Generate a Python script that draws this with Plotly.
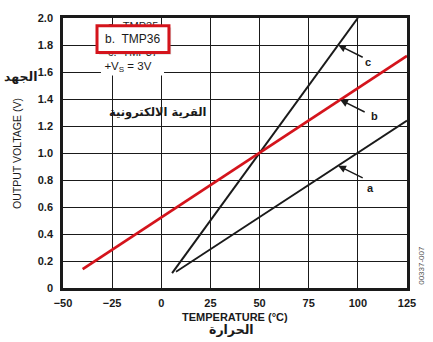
import numpy as np
import plotly.graph_objects as go

# Output voltage vs temperature for the three sensor variants (+VS = 3V)
temp_a = [7.5, 125]          # TMP35
volt_a = [0.12, 1.24]
temp_b = [-40, 125]          # TMP36
volt_b = [0.14, 1.72]
temp_c = [5.5, 100]          # TMP37
volt_c = [0.11, 2.0]

x_ticks = [-50, -25, 0, 25, 50, 75, 100, 125]
x_tick_text = ["\u221250", "\u221225", "0", "25", "50", "75", "100", "125"]
y_ticks = [0, 0.2, 0.4, 0.6, 0.8, 1.0, 1.2, 1.4, 1.6, 1.8, 2.0]
y_tick_text = ["0", "0.2", "0.4", "0.6", "0.8", "1.0", "1.2", "1.4", "1.6", "1.8", "2.0"]

INK = "#1a1a1a"
RED = "#d4141c"
FONT = "Liberation Sans, Arial, DejaVu Sans"
AR_FONT = "DejaVu Sans"

fig = go.Figure()

# white patch behind the legend text, hiding the grid there
fig.add_trace(go.Scatter(
    x=[-30.7, 1.4, 1.4, -30.7, -30.7], y=[1.935, 1.935, 1.575, 1.575, 1.935],
    fill="toself", fillcolor="white", mode="none", hoverinfo="skip", showlegend=False))

# legend lines partially hidden under the highlight box
fig.add_trace(go.Scatter(
    x=[-14.4, -14.4], y=[1.935, 1.74], mode="text",
    text=["a.  TMP35", "c.  TMP37"],
    textfont=dict(family=FONT, size=11, color=INK), showlegend=False, hoverinfo="skip"))
fig.add_trace(go.Scatter(
    x=[-17], y=[1.638], mode="text", text=["+V<sub>S</sub> = 3V"],
    textfont=dict(family=FONT, size=11.5, color=INK), showlegend=False, hoverinfo="skip"))

fig.add_trace(go.Scatter(x=temp_c, y=volt_c, mode="lines",
                         line=dict(color=INK, width=2), showlegend=False))
fig.add_trace(go.Scatter(x=temp_a, y=volt_a, mode="lines",
                         line=dict(color=INK, width=1.8), showlegend=False))
fig.add_trace(go.Scatter(x=temp_b, y=volt_b, mode="lines",
                         line=dict(color=RED, width=2.8), showlegend=False))

# highlight box around the TMP36 entry (shadow + red frame)
fig.add_shape(type="rect", x0=-31.7, x1=5.0, y0=1.93, y1=1.73, layer="above",
              line=dict(width=0), fillcolor="rgba(120,120,120,0.35)")
fig.add_shape(type="rect", x0=-32.7, x1=3.9, y0=1.942, y1=1.744, layer="above",
              line=dict(color=RED, width=3), fillcolor="white")

annotations = [
    dict(x=-14.4, y=1.843, text="b.  TMP36", showarrow=False,
         font=dict(family=FONT, size=12, color=INK)),
    dict(x=-1.7, y=1.30, text="<b>القرية الالكترونية</b>", showarrow=False,
         font=dict(family=AR_FONT, size=11.5, color=INK)),
]

# arrow callouts pointing at each line
for label, xs, ys, xh, tx, ty in [
    ("c", temp_c, volt_c, 90.0, 105.1, 1.671),
    ("b", temp_b, volt_b, 91.0, 108.7, 1.276),
    ("a", temp_a, volt_a, 90.0, 106.2, 0.742),
]:
    yh = float(np.interp(xh, xs, ys))
    annotations.append(dict(x=xh, y=yh, ax=26, ay=13, showarrow=True, text="",
                            arrowhead=2, arrowsize=1.1, arrowwidth=1.4,
                            arrowcolor=INK))
    annotations.append(dict(x=tx, y=ty, text="<b>" + label + "</b>", showarrow=False,
                            font=dict(family=FONT, size=11, color=INK)))

annotations += [
    dict(xref="paper", yref="paper", x=-0.134, y=0.5, xanchor="center", yanchor="middle",
         text="OUTPUT VOLTAGE (V)", textangle=-90, showarrow=False,
         font=dict(family=FONT, size=10.5, color=INK)),
    dict(xref="paper", yref="paper", x=0.5, y=-0.107, xanchor="center", yanchor="middle",
         text="<b>TEMPERATURE (°C)</b>", showarrow=False,
         font=dict(family=FONT, size=11, color=INK)),
    dict(xref="paper", yref="paper", x=0.49, y=-0.155, xanchor="center", yanchor="middle",
         text="<b>الحرارة</b>", showarrow=False,
         font=dict(family=AR_FONT, size=12.5, color=INK)),
    dict(xref="paper", yref="paper", x=-0.125, y=0.785, xanchor="center", yanchor="middle",
         text="<b>الجهد</b>", showarrow=False,
         font=dict(family=AR_FONT, size=12.5, color=INK)),
    dict(xref="paper", yref="paper", x=1.04, y=0.085, xanchor="center", yanchor="middle",
         text="00337-007", textangle=-90, showarrow=False,
         font=dict(family=FONT, size=8, color="#555555")),
]

fig.update_layout(
    width=433, height=342,
    margin=dict(l=63, r=26, t=15, b=54),
    paper_bgcolor="white", plot_bgcolor="white",
    annotations=annotations,
    xaxis=dict(range=[-50, 125], tickvals=x_ticks, ticktext=x_tick_text,
               showgrid=True, gridcolor=INK, gridwidth=1.4, zeroline=False,
               showline=True, linecolor=INK, linewidth=2.5, mirror=True,
               ticks="", ticklabelstandoff=3,
               tickfont=dict(family=FONT, size=11, color=INK, weight="bold")),
    yaxis=dict(range=[0, 2.0], tickvals=y_ticks, ticktext=y_tick_text,
               showgrid=True, gridcolor=INK, gridwidth=1.4, zeroline=False,
               showline=True, linecolor=INK, linewidth=2.5, mirror=True,
               ticks="", ticklabelstandoff=5,
               tickfont=dict(family=FONT, size=11, color=INK, weight="bold")),
)

fig.write_html("out.html")
